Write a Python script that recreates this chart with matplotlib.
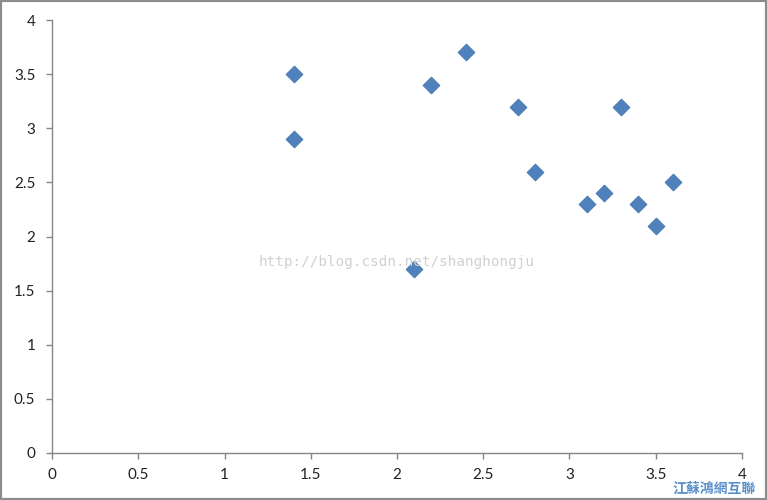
import matplotlib.pyplot as plt
from matplotlib.patches import Rectangle

# data
x_vals = [1.4, 1.4, 2.1, 2.2, 2.4, 2.7, 2.8, 3.1, 3.2, 3.3, 3.4, 3.5, 3.6]
y_vals = [3.5, 2.9, 1.7, 3.4, 3.7, 3.2, 2.6, 2.3, 2.4, 3.2, 2.3, 2.1, 2.5]
x_ticks = [0, 0.5, 1, 1.5, 2, 2.5, 3, 3.5, 4]
y_ticks = [0, 0.5, 1, 1.5, 2, 2.5, 3, 3.5, 4]

plt.rcParams['font.family'] = ['Lato', 'DejaVu Sans']

fig = plt.figure(figsize=(7.67, 5.0), dpi=100)
ax = fig.add_axes([0.0678, 0.094, 0.8996, 0.866])

ax.scatter(x_vals, y_vals, marker='D', s=75, color='#4F81BD', edgecolors='#3F6FA8',
           linewidths=0.5, zorder=3)

ax.set_xlim(0, 4)
ax.set_ylim(0, 4)
ax.set_xticks(x_ticks)
ax.set_yticks(y_ticks)
ax.set_xticklabels([f'{t:g}' for t in x_ticks])
ax.set_yticklabels([f'{t:g}' for t in y_ticks])

for side in ['top', 'right']:
    ax.spines[side].set_visible(False)
for side in ['left', 'bottom']:
    ax.spines[side].set_color('#868686')
    ax.spines[side].set_linewidth(1)
ax.tick_params(axis='both', colors='#868686', labelcolor='#222222', labelsize=11,
               length=4, width=1)
ax.tick_params(axis='y', pad=8)
ax.tick_params(axis='x', pad=7)

# blog watermark
ax.text(0.5, 0.44, 'http://blog.csdn.net/shanghongju', transform=ax.transAxes,
        family='DejaVu Sans Mono', fontsize=10.3, color='#d0d0d0',
        ha='center', va='center', zorder=4)

# site logo watermark, kept just under the tick labels
fig.text(0.985, 0.024, '江蘇鴻網互聯', family=['Noto Sans CJK TC', 'DejaVu Sans'],
         fontsize=10, fontweight='bold', color='#5B8FC9', ha='right', va='center',
         zorder=5)

# grey frame round the picture
fig.patches.append(Rectangle((0, 0), 1, 1, transform=fig.transFigure, fill=False,
                             edgecolor='#8c8c8c', linewidth=3))

fig.savefig('out.png', dpi=100)
